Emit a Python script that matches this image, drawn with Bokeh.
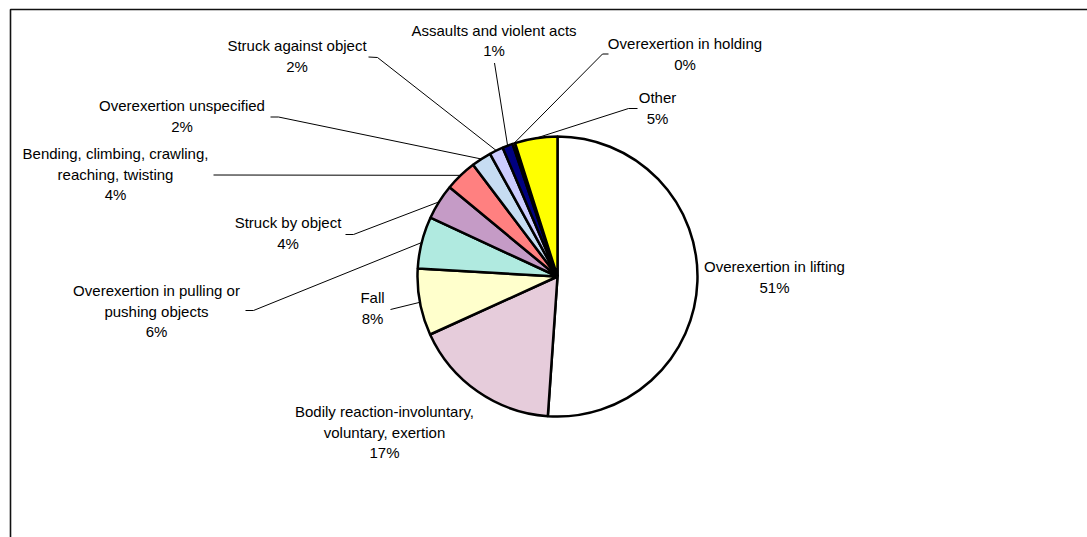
import math
from bokeh.plotting import figure
from bokeh.models import Range1d, ColumnDataSource
from bokeh.core.properties import value
from bokeh.embed import file_html
from bokeh.resources import INLINE

# ---------------- data ----------------
categories = [
    "Overexertion in lifting",
    "Bodily reaction-involuntary,\nvoluntary, exertion",
    "Fall",
    "Overexertion in pulling or\npushing objects",
    "Struck by object",
    "Bending, climbing, crawling,\nreaching, twisting",
    "Overexertion unspecified",
    "Struck against object",
    "Assaults and violent acts",
    "Overexertion in holding",
    "Other",
]
shares = [51.1, 17.1, 7.7, 6.0, 4.1, 3.7, 2.3, 1.6, 1.2, 0.3, 4.9]
colors = ["#FFFFFF", "#E6CCDB", "#FFFFCC", "#B0EAE0", "#C59BC6", "#FF8080",
          "#C6DCF2", "#CCCCFF", "#000080", "#FF00FF", "#FFFF00"]

# ---------------- layout (pixels, y downward) ----------------
W, H = 1087, 537
CX, CY, R = 557, 276, 140
LINE_H = 20.5
FONT = "Liberation Sans"
FS = "15px"
label_pos = [  # centre of first text line
    (774, 266), (384, 411), (372, 297), (156, 290), (287.5, 222),
    (115, 153), (181.5, 105), (296.5, 45), (493.5, 29.5), (684.5, 43),
    (657, 97),
]
leader_start = [
    None, None, [(390, 309)], [(245, 310), (253, 310)], [(345, 234), (353, 234)],
    [(213, 174.5)], [(270, 116.5), (278, 116.5)], [(368, 56.5), (377, 57)],
    [(494, 62.5)], [(608, 53.5), (602, 53.5)], [(637, 108), (628, 108)],
]

def Y(py):
    return H - py

total = sum(shares)
starts, ends, mids = [], [], []
cum = 0.0
for s in shares:
    f0 = cum / total
    cum += s
    f1 = cum / total
    # clockwise from 12 o'clock
    starts.append(math.pi / 2 - 2 * math.pi * f1)
    ends.append(math.pi / 2 - 2 * math.pi * f0)
    mids.append((f0 + f1) / 2)

p = figure(width=W, height=H, x_range=Range1d(0, W), y_range=Range1d(0, H),
           output_backend="svg", toolbar_location=None,
           x_axis_location=None, y_axis_location=None, min_border=0)
p.grid.visible = False
p.outline_line_color = None
p.background_fill_color = "white"
p.border_fill_color = "white"

# frame (cropped chart area border)
p.line([10, 10, W], [Y(H), Y(9), Y(9)], line_color="#111111", line_width=1.6)

src = ColumnDataSource(dict(start=starts, end=ends, color=colors))
p.wedge(x=CX, y=Y(CY), radius=R, start_angle="start", end_angle="end",
        fill_color="color", line_color="black", line_width=2.5, source=src)

# leader lines
xs, ys = [], []
for i, pts in enumerate(leader_start):
    if not pts:
        continue
    a = 2 * math.pi * mids[i]
    ex = CX + R * math.sin(a)
    ey = CY - R * math.cos(a)
    xx = [q[0] for q in pts] + [ex]
    yy = [Y(q[1]) for q in pts] + [Y(ey)]
    xs.append(xx)
    ys.append(yy)
p.multi_line(xs, ys, line_color="black", line_width=1)

# labels
tx, ty, tt = [], [], []
for i, name in enumerate(categories):
    lines = name.split("\n") + [f"{round(shares[i] / total * 100)}%"]
    x0, y0 = label_pos[i]
    for k, ln in enumerate(lines):
        tx.append(x0)
        ty.append(Y(y0 + k * LINE_H))
        tt.append(ln)
p.text(x=tx, y=ty, text=tt, text_font=value(FONT), text_font_size=FS,
       text_align="center", text_baseline="middle", text_color="black")

open("out.html", "w").write(file_html(p, INLINE))
